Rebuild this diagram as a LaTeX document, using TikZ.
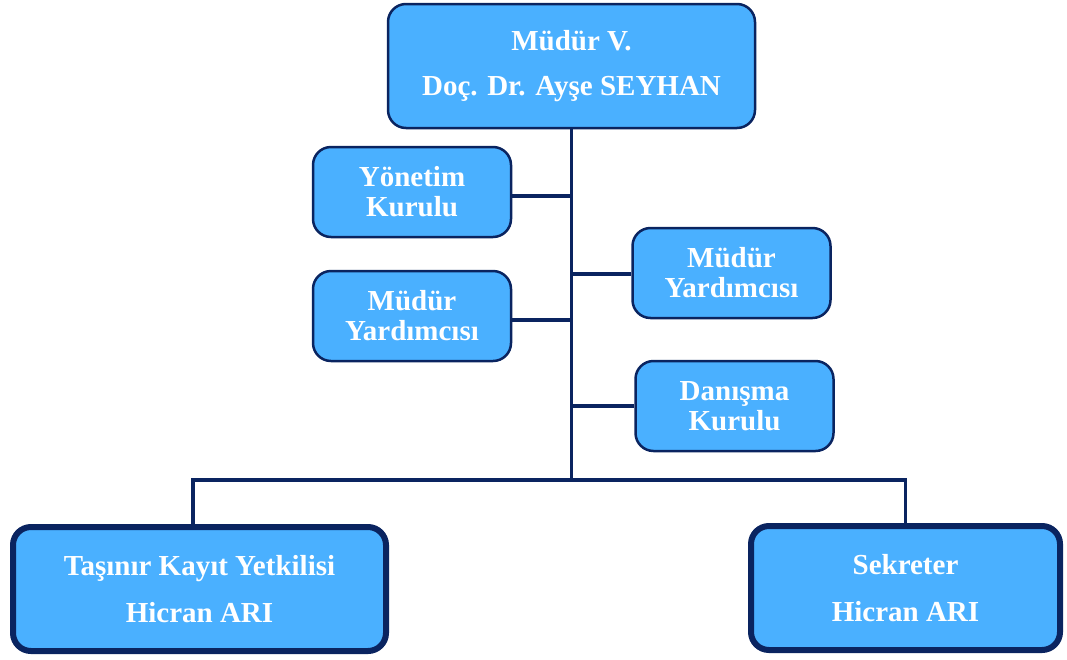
\documentclass[tikz,border=0pt]{standalone}
\usepackage{fontspec}
\setmainfont{Liberation Serif}
\definecolor{boxfill}{RGB}{74,176,255}
\definecolor{navy}{RGB}{10,36,96}
\begin{document}
\begin{tikzpicture}[x=1pt,y=-1pt,
  orgbox/.style={draw=navy,fill=boxfill,rounded corners=18pt,inner sep=0pt,align=center,
    text=white,font=\bfseries\fontsize{29}{30}\selectfont},
  smallbox/.style={orgbox,line width=2.5pt,minimum width=198pt,minimum height=90pt},
  bigbox/.style={orgbox,font=\bfseries\fontsize{29}{45}\selectfont},
  link/.style={draw=navy,line width=3.5pt}]
\useasboundingbox (0,0) rectangle (1067,659);
\node[bigbox,line width=2.5pt,minimum width=367pt,minimum height=124pt] (top) at (571.5,66) {\raisebox{-2pt}{Müdür V.}\\[-1pt]\raisebox{-3pt}{Doç. Dr. Ayşe SEYHAN}};
\node[smallbox] (yk) at (412,192) {Yönetim\\Kurulu};
\node[smallbox] (myl) at (412,316) {Müdür\\Yardımcısı};
\node[smallbox] (myr) at (731.5,273) {Müdür\\Yardımcısı};
\node[smallbox] (dk) at (734.5,406) {Danışma\\Kurulu};
\node[bigbox,line width=6pt,minimum width=373pt,minimum height=124pt] (bl) at (199.5,589) {\raisebox{3pt}{Taşınır Kayıt Yetkilisi}\\[-1pt]Hicran ARI};
\node[bigbox,line width=6pt,minimum width=309pt,minimum height=124pt] (br) at (905.5,588) {\raisebox{3pt}{Sekreter}\\[-1pt]Hicran ARI};
\coordinate (j) at (571.5,480);
\path[link] (top.south) -- (j);
\path[link] ([yshift=-4pt]yk.east) -- ([yshift=-4pt]yk.east -| j);
\path[link] ([yshift=-4pt]myl.east) -- ([yshift=-4pt]myl.east -| j);
\path[link] ([yshift=-1pt]myr.west) -- ([yshift=-1pt]myr.west -| j);
\path[link] (dk.west) -- (dk.west -| j);
\path[link] ([xshift=-6.5pt]bl.north) |- (j) -| (br.north);
\end{tikzpicture}
\end{document}
